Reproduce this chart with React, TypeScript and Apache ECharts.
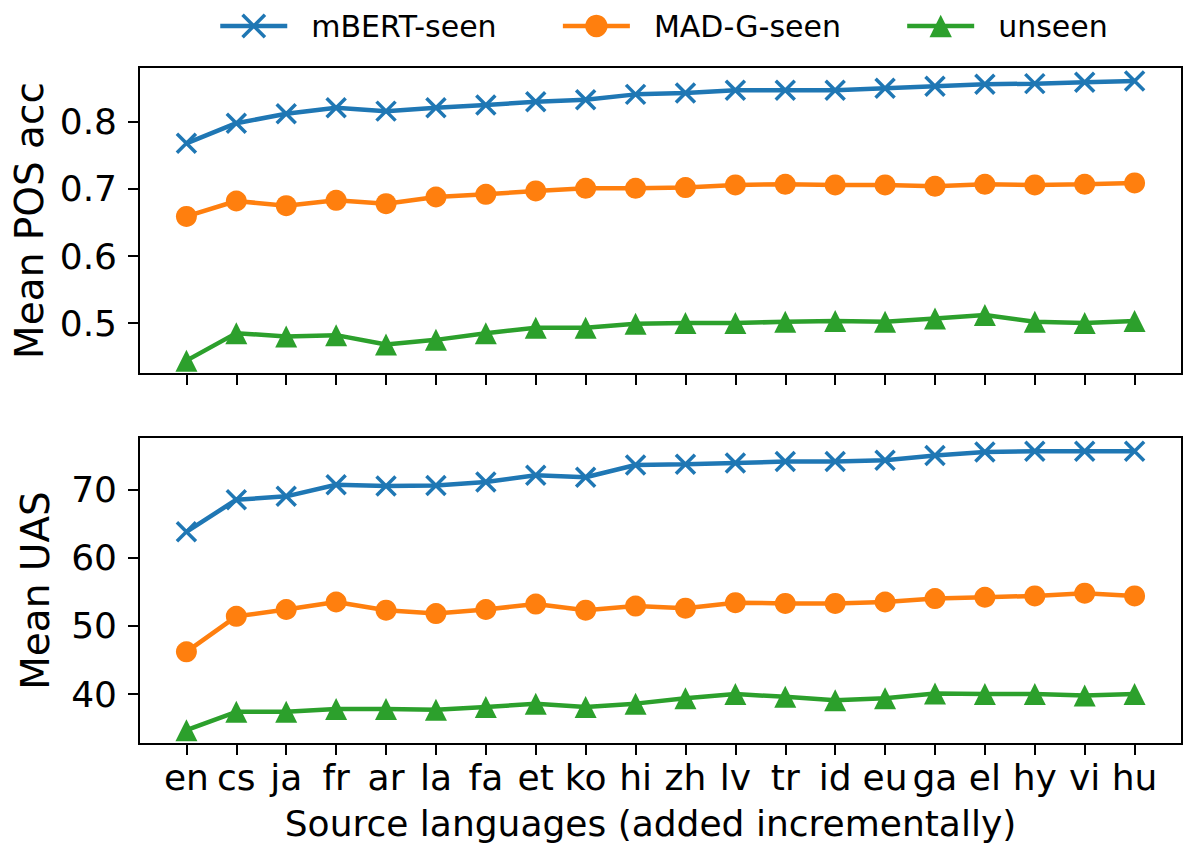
import React, { useEffect, useRef } from "react";
import * as echarts from "echarts";

const langs = ["en", "cs", "ja", "fr", "ar", "la", "fa", "et", "ko", "hi", "zh", "lv", "tr", "id", "eu", "ga", "el", "hy", "vi", "hu"];

const posMbert = [0.768, 0.798, 0.812, 0.821, 0.816, 0.821, 0.825, 0.830, 0.833, 0.841, 0.843, 0.847, 0.847, 0.847, 0.850, 0.853, 0.856, 0.857, 0.859, 0.861];
const posMadg = [0.659, 0.682, 0.675, 0.683, 0.678, 0.688, 0.692, 0.697, 0.701, 0.701, 0.702, 0.706, 0.707, 0.706, 0.706, 0.704, 0.707, 0.706, 0.707, 0.709];
const posUnseen = [0.444, 0.485, 0.480, 0.482, 0.468, 0.475, 0.485, 0.493, 0.493, 0.499, 0.500, 0.500, 0.502, 0.503, 0.502, 0.507, 0.512, 0.502, 0.500, 0.503];

const uasMbert = [63.8, 68.5, 69.0, 70.7, 70.5, 70.6, 71.1, 72.1, 71.8, 73.6, 73.7, 73.9, 74.1, 74.1, 74.3, 75.0, 75.5, 75.6, 75.6, 75.6];
const uasMadg = [46.2, 51.4, 52.4, 53.5, 52.3, 51.8, 52.4, 53.2, 52.3, 52.9, 52.6, 53.4, 53.3, 53.3, 53.5, 54.0, 54.2, 54.4, 54.8, 54.4];
const uasUnseen = [34.7, 37.4, 37.4, 37.8, 37.8, 37.7, 38.1, 38.6, 38.1, 38.6, 39.4, 40.0, 39.6, 39.1, 39.4, 40.1, 40.0, 40.0, 39.8, 40.0];

const posTicks = [0.5, 0.6, 0.7, 0.8];
const uasTicks = [40, 50, 60, 70];
const seriesNames = ["mBERT-seen", "MAD-G-seen", "unseen"];
const colors = ["#1f77b4", "#ff7f0e", "#2ca02c"];

const FONT = "DejaVu Sans";

export default function App() {
  const ref = useRef<HTMLDivElement>(null);
  useEffect(() => {
    if (!ref.current) return;
    const chart = echarts.init(ref.current, null, { renderer: "svg" });
    const idx = langs.map((_, i) => i);
    const pairs = (arr: number[]) => arr.map((v, i) => [i, v]);

    const xAxisBase = (gridIndex: number, showLabels: boolean) => ({
      type: "value",
      gridIndex,
      min: -0.95,
      max: 19.95,
      splitLine: { show: false },
      axisLine: { show: true, onZero: false, lineStyle: { color: "#000", width: 2 } },
      axisTick: { show: true, customValues: idx, length: 11, inside: false, lineStyle: { color: "#000", width: 2 } },
      axisLabel: {
        show: showLabels,
        customValues: idx,
        formatter: (v: number) => langs[Math.round(v)] ?? "",
        fontFamily: FONT,
        fontSize: 36,
        color: "#000",
        margin: 15,
      },
      name: showLabels ? "Source languages (added incrementally)" : "",
      nameLocation: "middle",
      nameGap: 61,
      nameTextStyle: { fontFamily: FONT, fontSize: 36, color: "#000", padding: [0, 20, 0, 0] },
    });

    const yAxisBase = (gridIndex: number, min: number, max: number, ticks: number[], name: string) => ({
      type: "value",
      gridIndex,
      min,
      max,
      splitLine: { show: false },
      axisLine: { show: true, onZero: false, lineStyle: { color: "#000", width: 2 } },
      axisTick: { show: true, customValues: ticks, length: 11, lineStyle: { color: "#000", width: 2 } },
      axisLabel: {
        customValues: ticks,
        fontFamily: FONT,
        fontSize: 36,
        color: "#000",
        margin: 22,
        formatter: (v: number) => (Number.isInteger(v) ? String(v) : v.toFixed(1)),
      },
      name,
      nameLocation: "middle",
      nameGap: 84,
      nameRotate: 90,
      nameTextStyle: { fontFamily: FONT, fontSize: 39, color: "#000" },
    });

    const symbolFor = (k: number) => {
      if (k === 0) return "path://M0,0L10,10M10,0L0,10";
      if (k === 1) return "circle";
      return "triangle";
    };
    const sizeFor = (k: number) => (k === 0 ? 19 : k === 1 ? 21 : 22);

    const mk = (k: number, data: number[], grid: number) => ({
      name: seriesNames[k],
      type: "line",
      xAxisIndex: grid,
      yAxisIndex: grid,
      data: pairs(data),
      symbol: symbolFor(k),
      symbolSize: sizeFor(k),
      showAllSymbol: true,
      lineStyle: { color: colors[k], width: 4.5 },
      itemStyle:
        k === 0
          ? { color: "none", borderColor: colors[k], borderWidth: 3.5, opacity: 1 }
          : { color: colors[k], borderWidth: 0, opacity: 1 },
      emphasis: { disabled: true },
      z: 3,
    });

    chart.setOption({
      animation: false,
      color: colors,
      textStyle: { fontFamily: FONT },
      legend: {
        data: [
          { name: seriesNames[0], itemStyle: { color: "none", borderColor: colors[0], borderWidth: 3.5 } },
          { name: seriesNames[1] },
          { name: seriesNames[2] },
        ],
        left: 213,
        top: 6,
        itemWidth: 67,
        itemHeight: 28,
        itemGap: 64,
        lineStyle: { width: 4.5 },
        textStyle: { fontFamily: FONT, fontSize: 30, color: "#000", padding: [0, 0, 0, 19] },
      },
      grid: [
        { left: 139, right: 1, top: 67, height: 307, show: true, borderColor: "#000", borderWidth: 2, backgroundColor: "transparent" },
        { left: 139, right: 1, top: 437, height: 307, show: true, borderColor: "#000", borderWidth: 2, backgroundColor: "transparent" },
      ],
      xAxis: [xAxisBase(0, false), xAxisBase(1, true)],
      yAxis: [
        yAxisBase(0, 0.4241, 0.8818, posTicks, "Mean POS acc"),
        yAxisBase(1, 32.68, 77.7, uasTicks, "Mean UAS"),
      ],
      series: [
        mk(0, posMbert, 0),
        mk(1, posMadg, 0),
        mk(2, posUnseen, 0),
        mk(0, uasMbert, 1),
        mk(1, uasMadg, 1),
        mk(2, uasUnseen, 1),
      ],
    });
    return () => chart.dispose();
  }, []);
  return (
    <div
      ref={ref}
      style={{ position: "fixed", left: 0, top: 0, width: 1183, height: 853, background: "#fff" }}
    />
  );
}
